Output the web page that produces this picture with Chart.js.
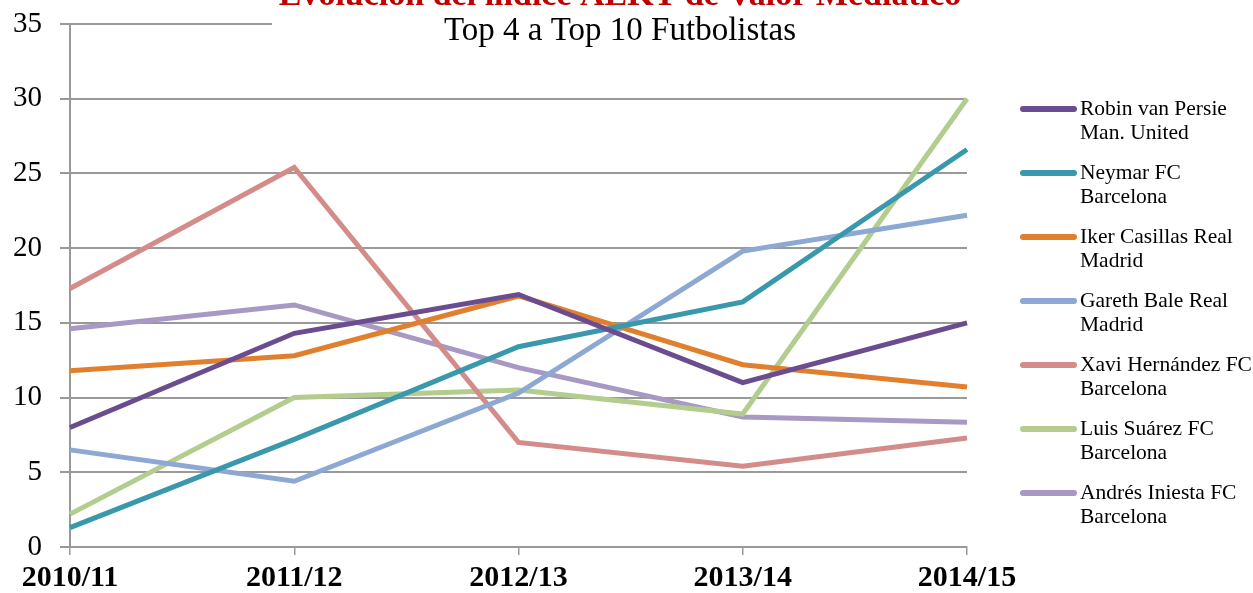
<!DOCTYPE html>
<html>
<head>
<meta charset="utf-8">
<script src="https://cdn.jsdelivr.net/npm/chart.js@4"></script>
<style>
  html, body { margin: 0; padding: 0; background: #fff; }
  #wrap { width: 1253px; height: 593px; }
</style>
</head>
<body>
<div id="wrap"><canvas id="chart" width="1253" height="593"></canvas></div>
<script>
// ---- Data ----
const SEASONS = ['2010/11', '2011/12', '2012/13', '2013/14', '2014/15'];

const VAN_PERSIE = [8.0, 14.3, 16.9, 11.0, 15.0];
const NEYMAR     = [1.3, 7.2, 13.4, 16.4, 26.6];
const CASILLAS   = [11.8, 12.8, 16.8, 12.2, 10.7];
const BALE       = [6.5, 4.4, 10.3, 19.8, 22.2];
const XAVI       = [17.3, 25.4, 7.0, 5.4, 7.3];
const SUAREZ     = [2.2, 10.0, 10.5, 8.9, 30.0];
const INIESTA    = [14.6, 16.2, 12.0, 8.7, 8.35];

const LABELS = [
  ['Robin van Persie', 'Man. United'],
  ['Neymar FC', 'Barcelona'],
  ['Iker Casillas Real', 'Madrid'],
  ['Gareth Bale Real', 'Madrid'],
  ['Xavi Hernández FC', 'Barcelona'],
  ['Luis Suárez FC', 'Barcelona'],
  ['Andrés Iniesta FC', 'Barcelona'],
];

const COLORS = ['#6b4d8f', '#3a98ac', '#e0802f', '#8ca8d3', '#d48c8a', '#b2cd8d', '#a898c4'];

const TITLE    = 'Evolución del índice AEKT de Valor Mediático';
const SUBTITLE = 'Top 4 a Top 10 Futbolistas';

const SERIF = '"Liberation Serif", "DejaVu Serif", serif';
const GRID  = '#999999';

// ---- Plugins: title box (hides the top gridline behind it), titles, legend ----

const titleBox = {
  id: 'titleBox',
  beforeDatasetsDraw(chart) {
    const ctx = chart.ctx;
    ctx.save();
    ctx.fillStyle = '#ffffff';
    ctx.fillRect(272, 0, 740, chart.chartArea.top + 6);
    ctx.restore();
  },
  afterDraw(chart) {
    const ctx = chart.ctx;
    ctx.save();
    ctx.textAlign = 'center';
    ctx.textBaseline = 'alphabetic';
    ctx.fillStyle = '#c00000';
    ctx.font = `bold 34px ${SERIF}`;
    ctx.fillText(TITLE, 620, 5);
    ctx.fillStyle = '#000';
    ctx.font = `33px ${SERIF}`;
    ctx.fillText(SUBTITLE, 620, 40);
    ctx.restore();
  },
};

const sideLegend = {
  id: 'sideLegend',
  afterDraw(chart) {
    const ctx = chart.ctx;
    ctx.save();
    ctx.font = `21.5px ${SERIF}`;
    ctx.textBaseline = 'middle';
    ctx.textAlign = 'left';
    chart.data.datasets.forEach((ds, i) => {
      const y = 109 + 64 * i;
      ctx.strokeStyle = ds.borderColor;
      ctx.lineWidth = 6;
      ctx.lineCap = 'round';
      ctx.beginPath();
      ctx.moveTo(1023, y);
      ctx.lineTo(1074, y);
      ctx.stroke();
      ctx.fillStyle = '#000';
      LABELS[i].forEach((line, j) => ctx.fillText(line, 1080, y + 24 * j));
    });
    ctx.restore();
  },
};

// ---- Chart ----

const series = [VAN_PERSIE, NEYMAR, CASILLAS, BALE, XAVI, SUAREZ, INIESTA];

new Chart(document.getElementById('chart'), {
  type: 'line',
  data: {
    labels: SEASONS,
    datasets: series.map((data, i) => ({
      label:       LABELS[i].join(' '),
      data,
      borderColor: COLORS[i],
      borderWidth: 5,
      pointRadius: 0,
      tension:     0,
      fill:        false,
      clip:        false,
    })),
  },
  options: {
    responsive: false,
    animation:  false,
    layout: { padding: { top: 24, right: 286, left: 0, bottom: 0 } },
    plugins: {
      legend:  { display: false },
      title:   { display: false },
      tooltip: { enabled: false },
    },
    scales: {
      x: {
        offset: false,
        afterFit: s => { s.height = 46; s.paddingLeft = 0; s.paddingRight = 0; },
        grid: { drawOnChartArea: false, drawTicks: true, tickLength: 8, color: GRID, lineWidth: 1.5 },
        border: { color: GRID, width: 2 },
        ticks: { color: '#000', padding: 5, maxRotation: 0, font: { family: SERIF, size: 30, weight: 'bold' } },
      },
      y: {
        min: 0,
        max: 35,
        afterFit: s => { s.width = 70; s.paddingTop = 0; s.paddingBottom = 0; },
        grid: { color: GRID, lineWidth: 2, tickLength: 10 },
        border: { color: GRID, width: 2 },
        ticks: { stepSize: 5, color: '#000', padding: 18, font: { family: SERIF, size: 29 } },
      },
    },
  },
  plugins: [titleBox, sideLegend],
});
</script>
</body>
</html>
